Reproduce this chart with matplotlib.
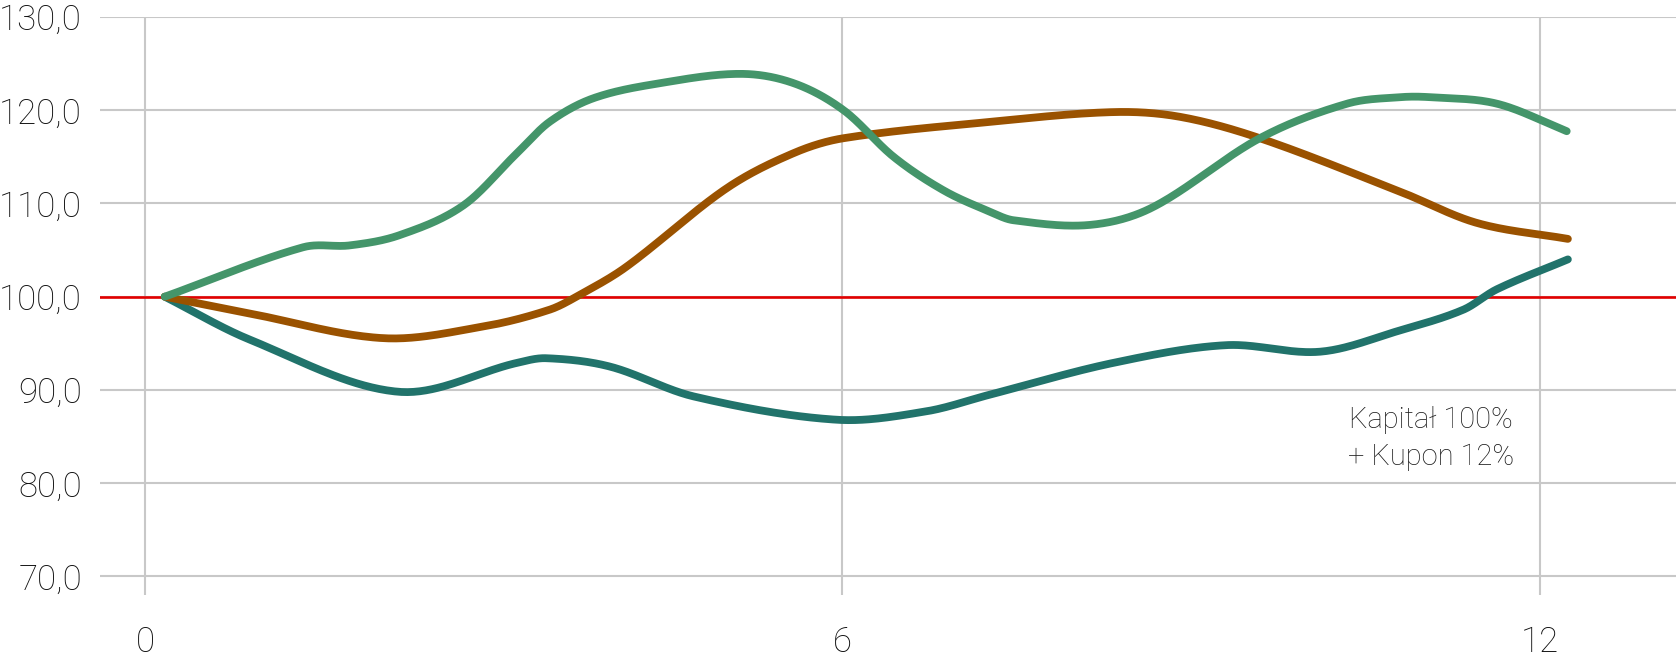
import numpy as np
import matplotlib
matplotlib.use("Agg")
from matplotlib import pyplot as plt

# values (x in months, y index level)
green_x = [0.17, 1.36, 1.76, 2.19, 2.74, 3.2, 3.48, 3.86, 4.43, 5.12, 5.58, 6.01, 6.44, 6.87,
           7.27, 7.47, 8.13, 8.67, 9.59, 10.34, 10.8, 11.05, 11.63, 12.23]
green_y = [100.0, 105.3, 105.5, 106.6, 109.8, 115.4, 118.75, 121.3, 122.9, 123.9, 122.9, 120.0, 115.0, 111.4,
           109.1, 108.2, 107.7, 109.6, 117.0, 120.7, 121.4, 121.4, 120.7, 117.75]

brown_x = [0.17, 0.9, 2.05, 2.91, 3.48, 3.74, 4.14, 5.0, 5.58, 6.01, 7.27, 8.33, 8.9, 9.59,
           10.8, 11.46, 12.24]
brown_y = [100.0, 98.2, 95.55, 96.8, 98.6, 100.2, 103.2, 111.6, 115.4, 117.0, 118.75, 119.8, 119.3, 117.0,
           111.25, 107.9, 106.2]

teal_x = [0.17, 0.9, 2.18, 3.2, 3.45, 4.0, 4.72, 5.95, 6.72, 7.27, 8.33, 9.3, 10.11, 10.8,
          11.34, 11.63, 12.24]
teal_y = [100.0, 95.4, 89.8, 92.9, 93.4, 92.5, 89.3, 86.8, 87.7, 89.5, 92.9, 94.8, 94.1, 96.4,
          98.6, 100.8, 104.0]

baseline = 100.0
yticks = [70, 80, 90, 100, 110, 120, 130]
xticks = [0, 6, 12]
note = "Kapitał 100%\n+ Kupon 12%"


def smooth(xs, ys, n=40):
    # cubic hermite through the points, slopes from neighbours (smoothed line look)
    xs = np.asarray(xs, float)
    ys = np.asarray(ys, float)
    m = np.empty_like(ys)
    m[1:-1] = (ys[2:] - ys[:-2]) / (xs[2:] - xs[:-2])
    m[0] = (ys[1] - ys[0]) / (xs[1] - xs[0])
    m[-1] = (ys[-1] - ys[-2]) / (xs[-1] - xs[-2])
    t = np.linspace(0, 1, n)
    h00 = 2 * t**3 - 3 * t**2 + 1
    h10 = t**3 - 2 * t**2 + t
    h01 = -2 * t**3 + 3 * t**2
    h11 = t**3 - t**2
    ox, oy = [], []
    for i in range(len(xs) - 1):
        h = xs[i + 1] - xs[i]
        ox.append(xs[i] + h * t)
        oy.append(h00 * ys[i] + h10 * h * m[i] + h01 * ys[i + 1] + h11 * h * m[i + 1])
    return np.concatenate(ox), np.concatenate(oy)


plt.rcParams['font.family'] = ['Roboto', 'DejaVu Sans']

fig = plt.figure(figsize=(16.76, 6.59), dpi=100)
ax = fig.add_axes([100 / 1676, 1 - 595 / 659, 1 - 100 / 1676, (595 - 17) / 659])

ax.axhline(baseline, color='#e20000', lw=1.9, zorder=3)
for xs, ys, c in ((teal_x, teal_y, '#21736b'), (brown_x, brown_y, '#9a5200'), (green_x, green_y, '#44956a')):
    sx, sy = smooth(xs, ys)
    ax.plot(sx, sy, color=c, lw=5.6, solid_capstyle='round', zorder=4)

ax.set_xlim(-0.387, 13.17)
ax.set_ylim(68.0, 130.0)
ax.set_yticks(yticks)
ax.set_yticklabels([f"{v:.1f}".replace('.', ',') for v in yticks])
ax.set_xticks(xticks)
ax.set_xticklabels([str(v) for v in xticks])
ax.grid(True, color='#c8c8c8', lw=1.5)
ax.set_axisbelow(True)
for s in ax.spines.values():
    s.set_visible(False)
ax.tick_params(length=0, labelsize=25, labelcolor='#0e0e0e')
ax.tick_params(axis='y', pad=13)
ax.tick_params(axis='x', pad=22)
for lab in ax.get_xticklabels() + ax.get_yticklabels():
    lab.set_fontweight('light')

ax.text(11.06, 88.3, note, ha='center', va='top', fontsize=21, color='#1a1a1a',
        fontweight='light', linespacing=1.4)

fig.savefig('out.png', dpi=100)
